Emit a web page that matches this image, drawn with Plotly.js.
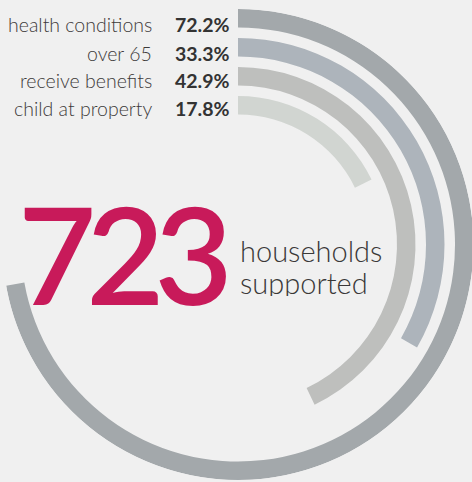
<!DOCTYPE html>
<html>
<head>
<meta charset="utf-8">
<script src="https://cdn.plot.ly/plotly-3.0.1.min.js"></script>
<style>
html,body{margin:0;padding:0;background:#f0f0f0;overflow:hidden;width:472px;height:482px;}
#chart{width:480px;height:482px;}
</style>
</head>
<body>
<div id="chart"></div>
<script>
// Data
var categories = ["health conditions", "over 65", "receive benefits", "child at property"];
var percentages = [72.2, 33.3, 42.9, 17.8];
var pctLabels = ["72.2%", "33.3%", "42.9%", "17.8%"];
var totalHouseholds = "723";
var captionLines = ["households", "supported"];

var colors = ["#a3a8ab", "#adb4bb", "#bebfbd", "#d1d5d1"];

var W = 480, H = 482;
var cx = 238, cy = 244.5;     // center in px (from top-left)
var Rout = 235.5;             // outer radius px
var thick = 18.5, step = 29;

var traces = categories.map(function(c, i){
  var outer = Rout - i*step;
  return {
    type: "barpolar",
    r: [thick],
    base: [outer - thick],
    theta: [percentages[i]*3.6/2],
    width: [percentages[i]*3.6],
    marker: {color: colors[i], line: {width: 0}},
    name: c,
    hoverinfo: "skip"
  };
});

function py(p){ return 1 - p/H; }
var annotations = [];
var rowY = [24, 53, 80.5, 108.5];
categories.forEach(function(c, i){
  annotations.push({
    xref: "paper", yref: "paper",
    x: 154/W, y: py(rowY[i]),
    xanchor: "right", yanchor: "middle",
    text: c, showarrow: false,
    font: {family: "Lato", size: 19.5, weight: 300, color: "#3d3a3a"}
  });
  annotations.push({
    xref: "paper", yref: "paper",
    x: 232/W, y: py(rowY[i]),
    xanchor: "right", yanchor: "middle",
    text: "<b>" + pctLabels[i] + "</b>", showarrow: false,
    font: {family: "Lato", size: 19.5, color: "#333333"}
  });
});
annotations.push({
  xref: "paper", yref: "paper",
  x: 16/W, y: py(253),
  xanchor: "left", yanchor: "middle",
  text: '<span style="letter-spacing:-10px">' + totalHouseholds + '</span>', showarrow: false,
  font: {family: "Lato", size: 135, weight: 600, color: "#c81a5a"}
});
var capY = [250, 281.5];
captionLines.forEach(function(t, i){
  annotations.push({
    xref: "paper", yref: "paper",
    x: 238/W, y: py(capY[i]),
    xanchor: "left", yanchor: "middle", align: "left",
    height: 28,
    text: t, showarrow: false,
    font: {family: "Lato", size: 29, weight: 300, color: "#3a3838"}
  });
});

var layout = {
  width: W, height: H,
  margin: {l: 0, r: 0, t: 0, b: 0},
  paper_bgcolor: "#f0f0f0",
  plot_bgcolor: "#f0f0f0",
  showlegend: false,
  polar: {
    domain: {
      x: [(cx - Rout)/W, (cx + Rout)/W],
      y: [((H - cy) - Rout)/H, ((H - cy) + Rout)/H]
    },
    bgcolor: "rgba(0,0,0,0)",
    radialaxis: {range: [0, Rout], visible: false, showgrid: false},
    angularaxis: {rotation: 90, direction: "clockwise", visible: false, showgrid: false},
    bargap: 0
  },
  annotations: annotations
};

Plotly.newPlot("chart", traces, layout, {staticPlot: true, displayModeBar: false});
</script>
</body>
</html>
